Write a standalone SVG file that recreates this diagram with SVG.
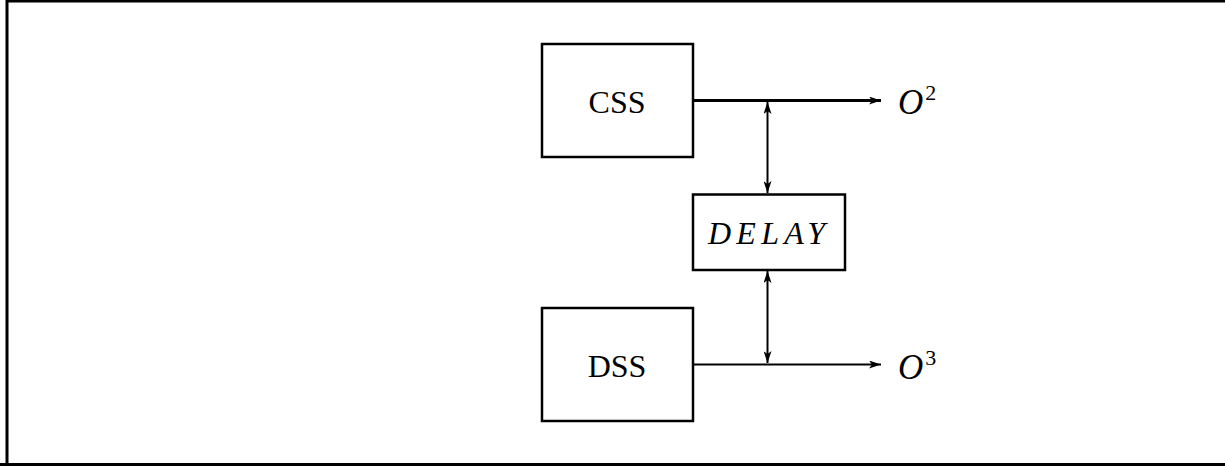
<svg xmlns="http://www.w3.org/2000/svg" width="1225" height="466" viewBox="0 0 1225 466">
<defs>
<marker id="ah" viewBox="0 0 12 8" refX="12" refY="4" markerWidth="12" markerHeight="8" markerUnits="userSpaceOnUse" orient="auto-start-reverse">
<path d="M0,0 L12,4 L0,8 L3,4 Z" fill="#000"/>
</marker>
</defs>
<style>
.box{fill:#fff;stroke:#000;stroke-width:2.5}
.ln{fill:none;stroke:#000;stroke-width:2}
.lbl{font-family:"Liberation Serif",serif;font-size:32px;fill:#000}
.it{font-style:italic}
.out{font-size:35px}
.sup{font-size:22px}
</style>
<rect width="1225" height="466" fill="#fff"/>
<path d="M7,466 L7,1 L1225,1" fill="none" stroke="#000" stroke-width="3"/>
<line x1="0" y1="464.5" x2="1225" y2="464.5" stroke="#000" stroke-width="3"/>
<g id="connectors">
<line class="ln" x1="693" y1="100.5" x2="881" y2="100.5" style="stroke-width:3" marker-end="url(#ah)"/>
<line class="ln" x1="767.5" y1="102" x2="767.5" y2="193" marker-start="url(#ah)" marker-end="url(#ah)"/>
<line class="ln" x1="767.5" y1="271" x2="767.5" y2="363" marker-start="url(#ah)" marker-end="url(#ah)"/>
<line class="ln" x1="693" y1="364.5" x2="881" y2="364.5" marker-end="url(#ah)"/>
</g>
<g id="css">
<rect class="box" x="542" y="44" width="151" height="113"/>
<text class="lbl" x="617" y="113" text-anchor="middle">CSS</text>
</g>
<g id="delay">
<rect class="box" x="693" y="194.5" width="152" height="75.5"/>
<text class="lbl it" x="708" y="244" textLength="117" lengthAdjust="spacing">DELAY</text>
</g>
<g id="dss">
<rect class="box" x="542" y="308" width="151" height="113"/>
<text class="lbl" x="617" y="377" text-anchor="middle">DSS</text>
</g>
<g id="o2">
<text class="lbl out" x="898" y="114"><tspan class="it">O</tspan><tspan class="sup" dx="2" dy="-14">2</tspan></text>
</g>
<g id="o3">
<text class="lbl out" x="898" y="379"><tspan class="it">O</tspan><tspan class="sup" dx="2" dy="-14">3</tspan></text>
</g>
</svg>
